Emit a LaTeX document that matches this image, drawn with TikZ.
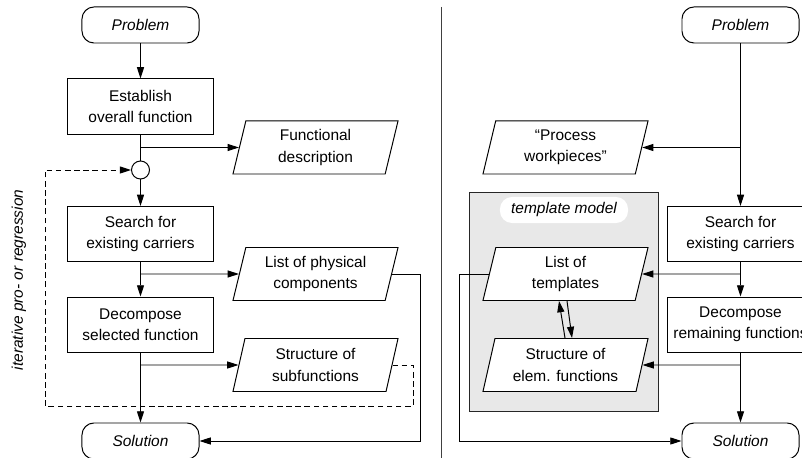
\documentclass[tikz,border=0pt]{standalone}
\usepackage{fontspec}
\setmainfont{Liberation Sans}
\usetikzlibrary{shapes,arrows.meta}

\begin{document}
\begin{tikzpicture}
[
x=0.025cm, y=-0.025cm, line width=0.7pt,
every node/.style={font=\fontsize{11}{15}\selectfont, align=center, inner xsep=2pt},
arr/.style={-{Triangle[length=8pt,width=5pt]}},
loopline/.style={dash pattern=on 4pt off 2.5pt}
]
\tikzset{process/.style={draw, rectangle, minimum width=3.625cm, minimum height=1.375cm}}
\tikzset{terminal/.style={draw, rectangle, rounded corners=0.3cm, minimum width=2.925cm, minimum height=0.9cm, font=\fontsize{11}{15}\selectfont\itshape}}
\tikzset{datashape/.style={draw, fill=white, trapezium, trapezium left angle=74, trapezium right angle=106, trapezium stretches body, minimum width=4.125cm, minimum height=1.325cm}}
\tikzset{modelbox/.style={draw=black!85, fill=black!9, line width=0.6pt, minimum width=4.725cm, minimum height=5.475cm}}
\tikzset{tagbox/.style={fill=white, rounded corners=0.3cm, minimum width=3.2cm, minimum height=0.65cm, font=\fontsize{11}{15}\selectfont\itshape}}

\useasboundingbox (0,0) rectangle (802,458);

% left: function-based procedure
\node[terminal] (probL) at (140.5,25) {Problem};
\node[process] (estab) at (140.5,106.5) {Establish\\overall function};
\node[datashape] (funcd) at (315.5,147.5) {Functional\\description};
\node[draw, circle, minimum size=0.45cm, inner sep=0pt] (junc) at (140.5,170) {};
\node[process] (searchL) at (140.5,234) {Search for\\existing carriers};
\node[datashape] (physL) at (315.5,274) {List of physical\\components};
\node[process] (decompL) at (140.5,324.5) {Decompose\\selected function};
\node[datashape] (subfL) at (315.5,365) {Structure of\\subfunctions};
\node[terminal] (solL) at (140.5,441) {Solution};
\coordinate (loopL) at (45,406);
\node[rotate=90, font=\fontsize{11}{15}\selectfont\itshape] (iterlbl) at (19,280) {iterative pro- or regression};

\draw[arr] (probL) -- (estab);
\draw (estab) -- (junc);
\draw[arr] (estab.south |- funcd) -- (funcd);
\draw[arr] (junc) -- (searchL);
\draw[arr] (searchL) -- (decompL);
\draw[arr] (searchL.south |- physL) -- (physL);
\draw[arr] (decompL) -- (solL);
\draw[arr] (decompL.south |- subfL) -- (subfL);
\draw[arr] (physL.east) -- ++(28.5,0) |- (solL);
\draw[arr, loopline] (subfL.east) -- ++(20.5,0) |- (loopL) |- (junc);

% divider
\draw[black!75, line width=0.5pt] (441,7) -- (441,470);

% right: template-based procedure
\node[modelbox] (tmodel) at (563.5,301.5) {};
\node[tagbox] (tmlabel) at (564,210) {template model};
\node[terminal] (probR) at (740.5,25) {Problem};
\node[datashape] (procw) at (565.5,147.5) {“Process\\workpieces”};
\node[process] (searchR) at (740.5,234) {Search for\\existing carriers};
\node[datashape] (tmpl) at (565.5,274) {List of\\templates};
\node[process] (decompR) at (740.5,324.5) {Decompose\\remaining functions};
\node[datashape] (elemf) at (565.5,365) {Structure of\\elem. functions};
\node[terminal] (solR) at (740.5,441) {Solution};

\draw[arr] (probR) -- (searchR);
\draw[arr] (probR |- procw) -- (procw);
\draw[arr] (searchR) -- (decompR);
\draw[arr] (searchR.south |- tmpl) -- (tmpl);
\draw[arr] (decompR) -- (solR);
\draw[arr] (decompR.south |- elemf) -- (elemf);
\draw[arr] ([shift={(-0.5,0)}]elemf.north) -- ([shift={(-6.5,0)}]tmpl.south);
\draw[arr] ([shift={(1.5,0)}]tmpl.south) -- ([shift={(6.5,0)}]elemf.north);
\draw[arr] (tmpl.west) -- ++(-29.5,0) |- (solR);
\end{tikzpicture}
\end{document}
